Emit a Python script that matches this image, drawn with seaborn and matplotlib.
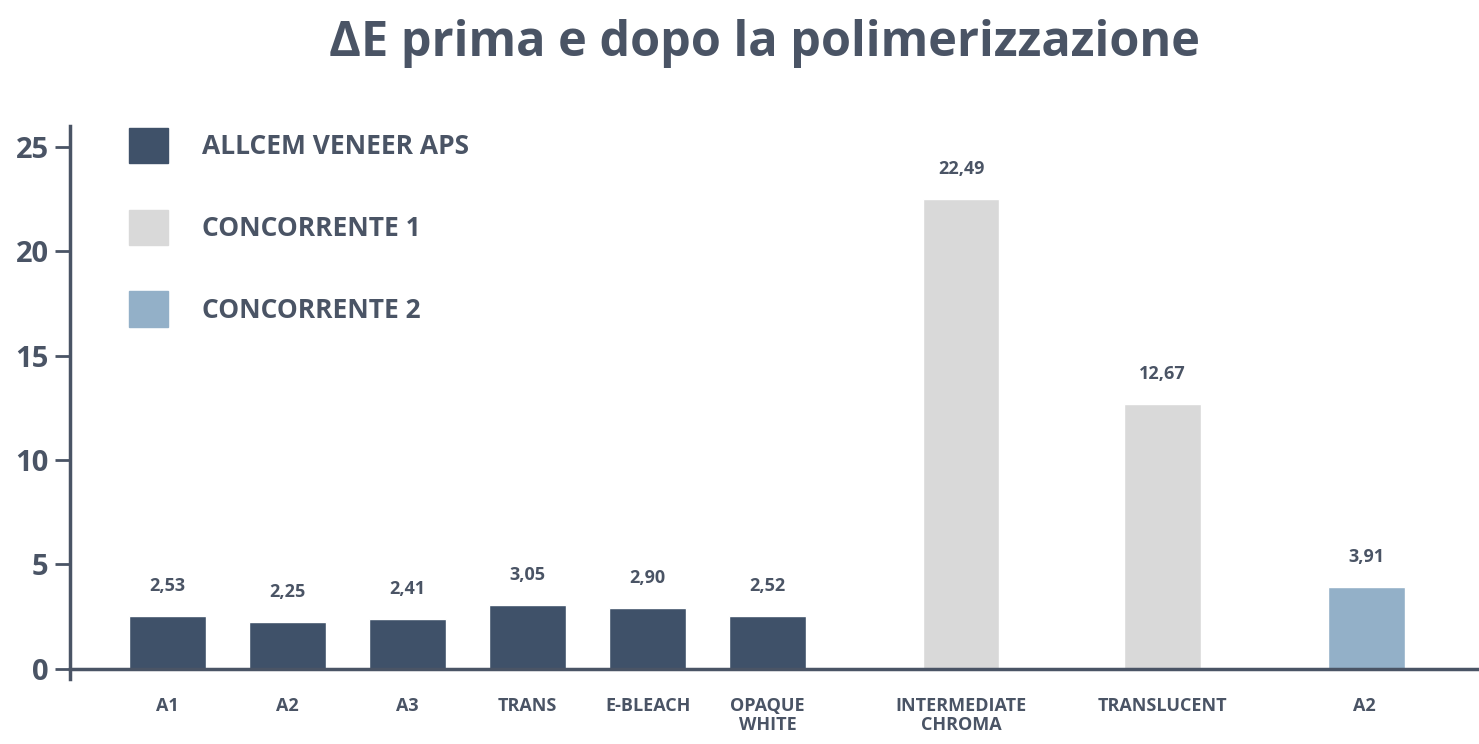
import matplotlib
matplotlib.use("Agg")
import matplotlib.pyplot as plt
import seaborn as sns
import pandas as pd
from matplotlib.patches import Patch

categories = ["A1", "A2", "A3", "TRANS", "E-BLEACH", "OPAQUE\nWHITE",
              "INTERMEDIATE\nCHROMA", "TRANSLUCENT", "A2 "]
values = [2.53, 2.25, 2.41, 3.05, 2.90, 2.52, 22.49, 12.67, 3.91]
labels = ["2,53", "2,25", "2,41", "3,05", "2,90", "2,52", "22,49", "12,67", "3,91"]
groups = ["ALLCEM VENEER APS"] * 6 + ["CONCORRENTE 1"] * 2 + ["CONCORRENTE 2"]
positions = [0, 1, 2, 3, 4, 5, 6.61, 8.29, 9.99]

colors = {"ALLCEM VENEER APS": "#3f5169", "CONCORRENTE 1": "#d9d9d9", "CONCORRENTE 2": "#93b0c8"}
txt = "#4a5465"

sns.set_style("white")
plt.rcParams["font.family"] = ["Open Sans", "DejaVu Sans"]

df = pd.DataFrame({"pos": positions, "val": values, "grp": groups})
fig = plt.figure(figsize=(14.79, 7.44), dpi=100)
ax = fig.add_axes([0.047, 0.101, 0.953, 0.730])
sns.barplot(data=df, x="pos", y="val", hue="grp", palette=colors, native_scale=True,
            dodge=False, width=0.64, legend=False, ax=ax, saturation=1)
ax.set_xlim(-0.817, 10.925)
ax.set_ylim(0, 26)
for p, v, l in zip(positions, values, labels):
    ax.text(p, v + 1.0, l, ha="center", va="bottom", fontsize=13, fontweight="bold", color=txt)
ax.set_xticks(positions)
ax.set_xticklabels(categories, fontsize=13, fontweight="bold", color=txt, va="top", linespacing=1.1)
ax.tick_params(axis="x", length=0, pad=20)
ax.set_yticks([0, 5, 10, 15, 20, 25])
ax.set_yticklabels(["0", "5", "10", "15", "20", "25"], fontsize=21, fontweight="bold", color=txt)
ax.tick_params(axis="y", length=11, width=2, color=txt, direction="out", left=True, pad=4)
ax.set_xlabel(""); ax.set_ylabel("")
for s in ["top", "right"]:
    ax.spines[s].set_visible(False)
for s in ["left", "bottom"]:
    ax.spines[s].set_color(txt); ax.spines[s].set_linewidth(2.5)
ax.spines["left"].set_bounds(-0.5, 26)

handles = [Patch(color=colors[g]) for g in colors]
leg = ax.legend(handles, list(colors), loc="upper left", bbox_to_anchor=(0.025, 1.04),
                frameon=False, handlelength=1.5, handleheight=1.7, labelspacing=1.75,
                handletextpad=1.3, prop={"size": 19, "weight": "bold"})
for t in leg.get_texts():
    t.set_color(txt)

fig.text(0.517, 0.975, "ΔE prima e dopo la polimerizzazione", ha="center", va="top",
         fontsize=35, fontweight="bold", color=txt)
fig.savefig("out.png", dpi=100)
